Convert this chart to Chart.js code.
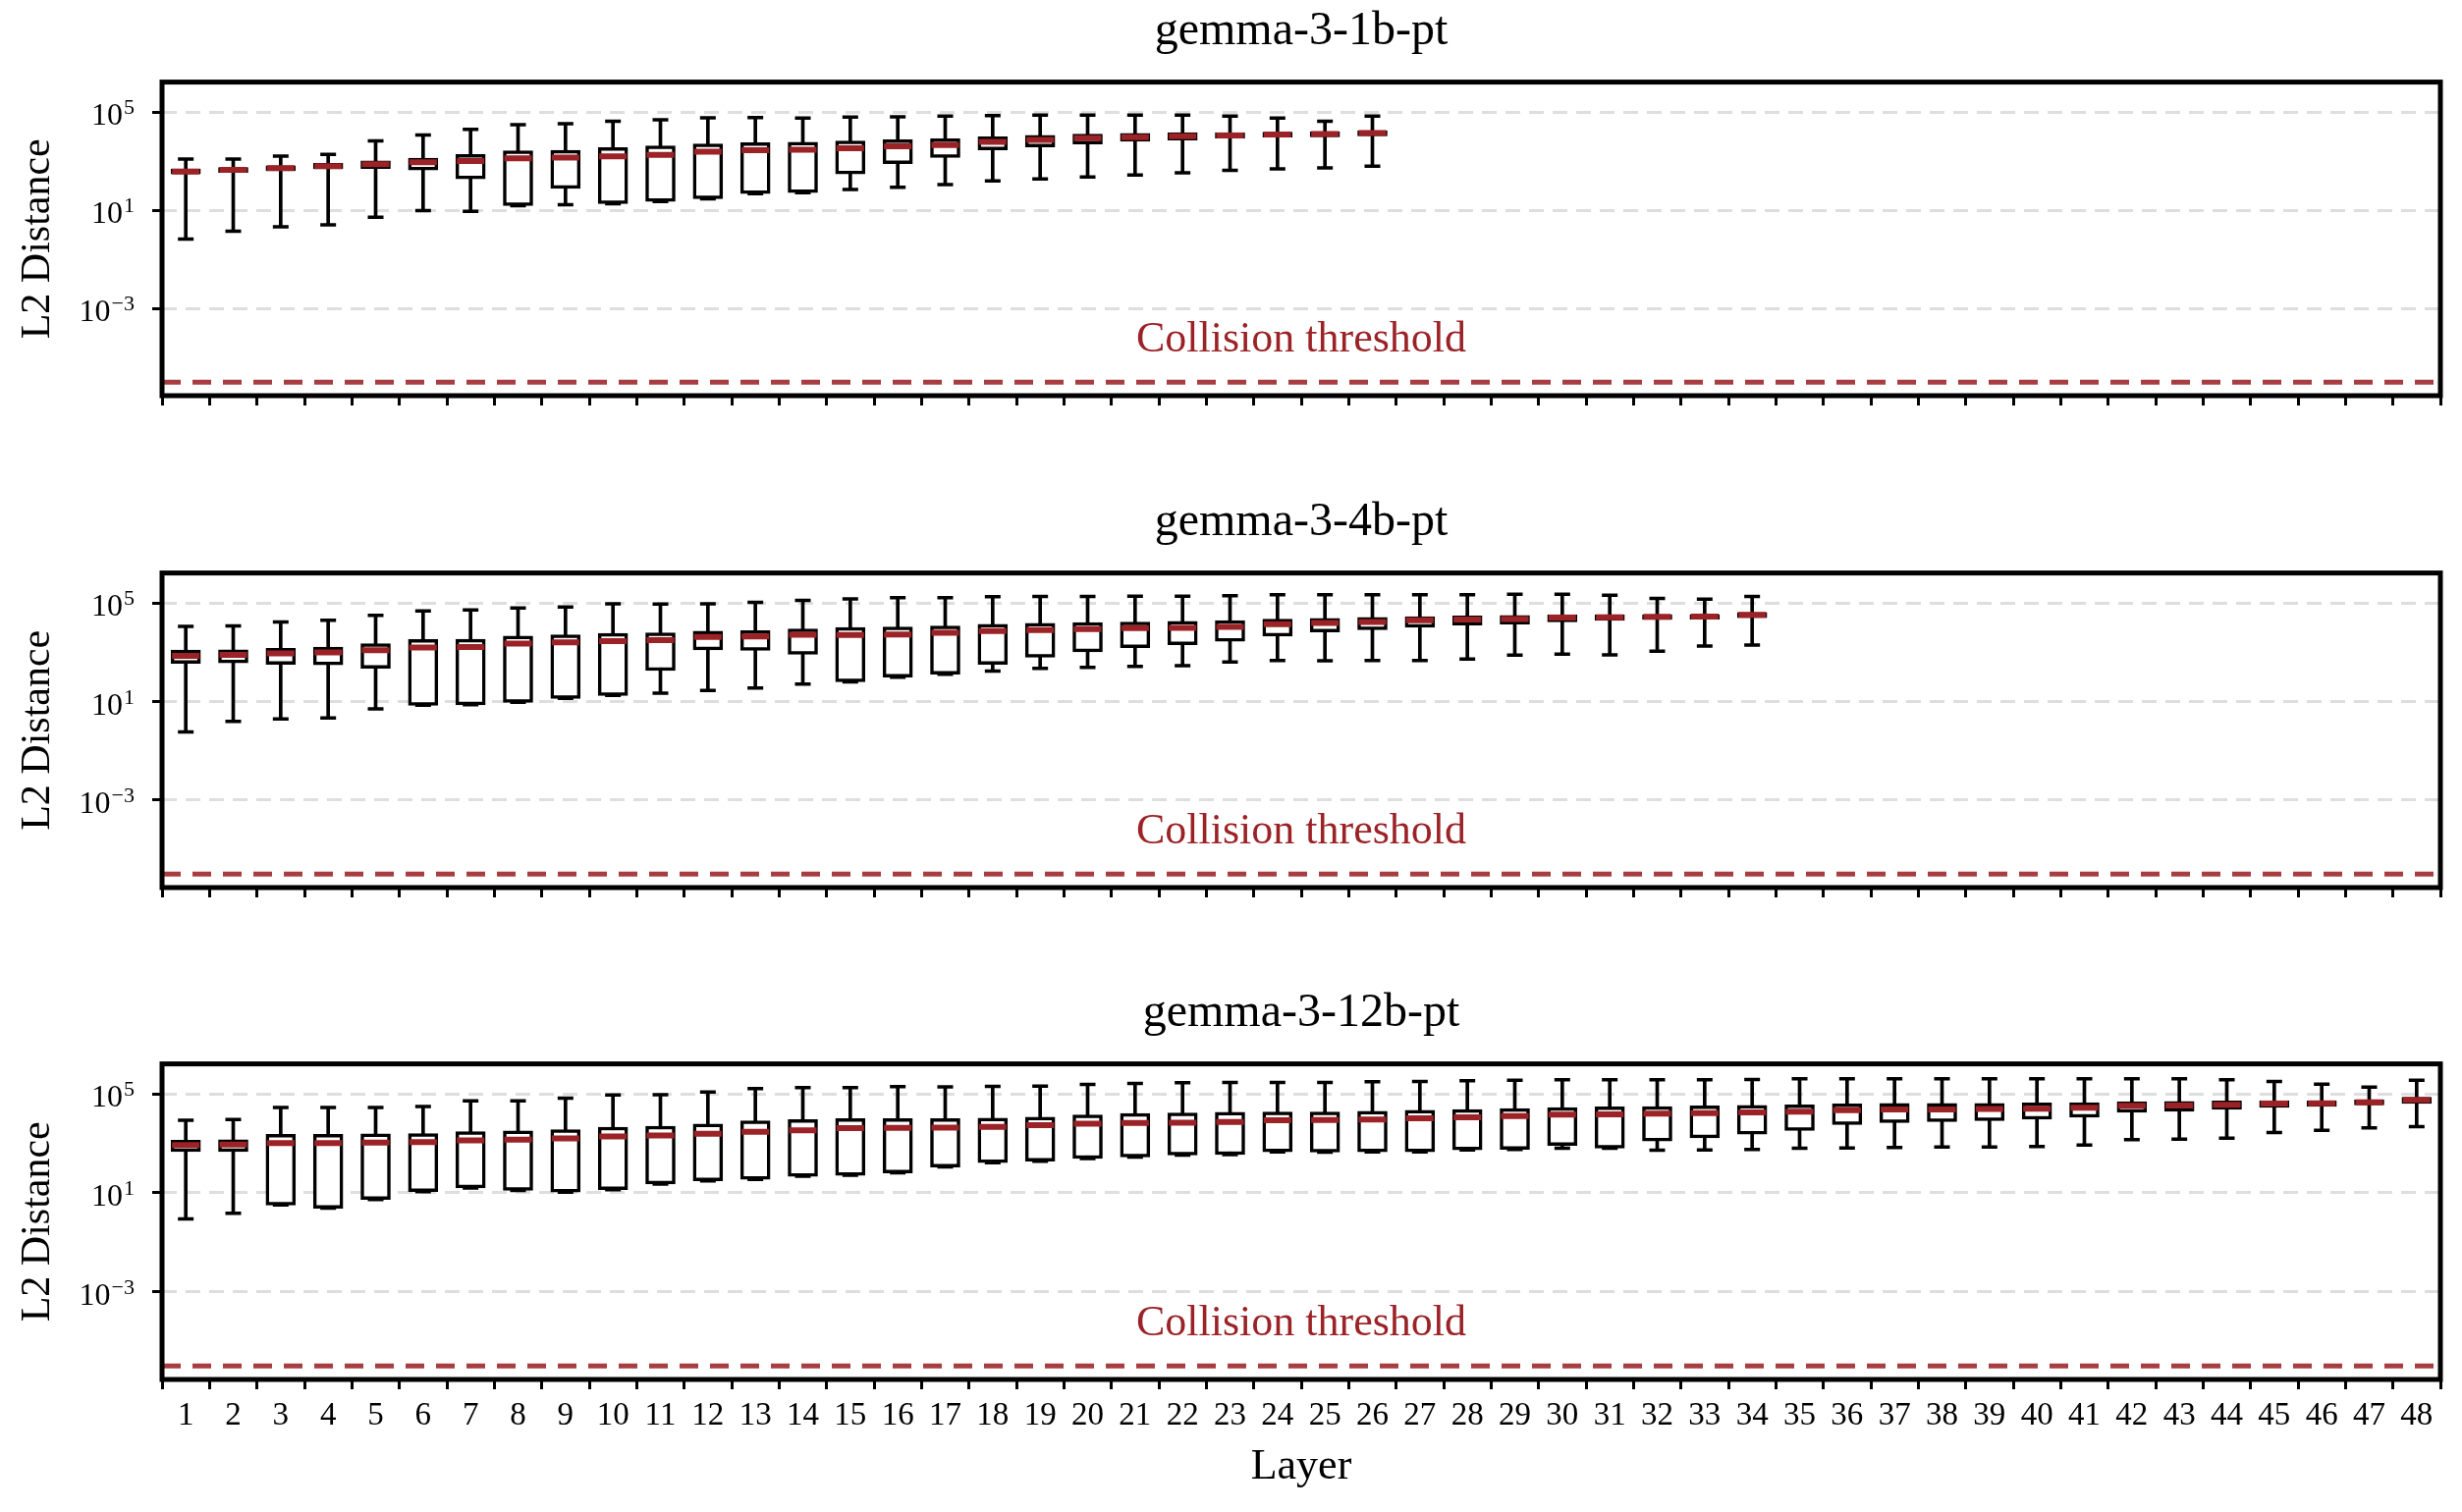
<!DOCTYPE html>
<html>
<head>
<meta charset="utf-8">
<script src="https://cdn.jsdelivr.net/npm/chart.js@4.4.1/dist/chart.umd.min.js"></script>
<style>
  html, body { margin: 0; padding: 0; background: #fff; overflow: hidden; }
  .panel { position: absolute; left: 0; width: 2507px; }
</style>
</head>
<body>
<div class="panel" style="top:0;height:500px"><canvas id="c1b"></canvas></div>
<div class="panel" style="top:500px;height:500px"><canvas id="c4b"></canvas></div>
<div class="panel" style="top:1000px;height:540px"><canvas id="c12b"></canvas></div>
<script>
const LAYERS = ['1','2','3','4','5','6','7','8','9','10','11','12','13','14','15','16',
  '17','18','19','20','21','22','23','24','25','26','27','28','29','30','31','32',
  '33','34','35','36','37','38','39','40','41','42','43','44','45','46','47','48'];
const Y_TICKS = [1e-3, 1e1, 1e5];
const THRESHOLD = 1e-6;

// gemma-3-1b-pt
const lo1b  = [-0.17,0.15,0.33,0.41,0.72,0.99,0.96,1.19,1.23,1.27,1.36,1.47,1.68,1.72,1.85,1.94,2.05,2.20,2.28,2.36,2.44,2.53,2.63,2.69,2.73,2.80];
const q1_1b = [2.48,2.54,2.61,2.69,2.70,2.64,2.28,1.19,1.89,1.27,1.36,1.47,1.68,1.72,2.48,2.90,3.15,3.46,3.58,3.70,3.81,3.86,3.94,3.98,3.99,4.03];
const med1b = [2.58,2.65,2.72,2.80,2.88,2.96,3.01,3.12,3.15,3.20,3.26,3.39,3.45,3.47,3.53,3.61,3.66,3.79,3.87,3.94,3.98,4.02,4.05,4.09,4.10,4.14];
const q3_1b = [2.68,2.74,2.81,2.91,3.01,3.12,3.27,3.42,3.44,3.55,3.62,3.70,3.75,3.77,3.82,3.87,3.91,3.99,4.05,4.10,4.13,4.16,4.16,4.18,4.20,4.24];
const hi1b  = [3.09,3.09,3.21,3.28,3.83,4.07,4.29,4.48,4.52,4.62,4.68,4.76,4.77,4.75,4.79,4.80,4.83,4.85,4.87,4.87,4.87,4.87,4.83,4.75,4.62,4.83];

// gemma-3-4b-pt
const lo4b  = [-0.23,0.20,0.30,0.34,0.70,0.85,0.87,0.97,1.13,1.25,1.34,1.45,1.55,1.71,1.80,1.99,2.11,2.24,2.35,2.39,2.43,2.46,2.61,2.67,2.66,2.67,2.67,2.73,2.89,2.93,2.90,3.05,3.25,3.29];
const q1_4b = [2.55,2.57,2.51,2.49,2.35,0.85,0.87,0.97,1.13,1.25,2.26,3.10,3.08,2.92,1.80,1.99,2.11,2.51,2.80,3.02,3.19,3.31,3.45,3.66,3.83,3.92,4.02,4.10,4.14,4.23,4.29,4.33,4.34,4.40];
const med4b = [2.86,2.90,2.96,3.00,3.09,3.19,3.21,3.35,3.40,3.45,3.49,3.62,3.64,3.71,3.70,3.72,3.79,3.86,3.90,3.94,3.98,3.99,4.03,4.14,4.19,4.23,4.30,4.33,4.35,4.41,4.42,4.44,4.45,4.52];
const q3_4b = [3.09,3.10,3.16,3.21,3.35,3.52,3.53,3.66,3.71,3.77,3.79,3.86,3.88,3.95,4.01,4.03,4.07,4.14,4.18,4.21,4.23,4.26,4.29,4.35,4.38,4.42,4.45,4.48,4.50,4.53,4.53,4.53,4.54,4.62];
const hi4b  = [4.05,4.07,4.23,4.30,4.50,4.68,4.72,4.80,4.84,4.97,4.96,4.97,5.03,5.11,5.17,5.22,5.22,5.26,5.27,5.27,5.28,5.28,5.30,5.34,5.34,5.34,5.34,5.34,5.36,5.36,5.32,5.19,5.16,5.27];

// gemma-3-12b-pt
const lo12b  = [-0.05,0.17,0.51,0.38,0.73,1.05,1.20,1.10,1.03,1.13,1.36,1.49,1.55,1.67,1.71,1.81,2.05,2.22,2.28,2.39,2.45,2.53,2.55,2.66,2.65,2.66,2.66,2.74,2.76,2.81,2.81,2.73,2.74,2.76,2.81,2.82,2.84,2.86,2.86,2.88,2.94,3.15,3.17,3.21,3.44,3.53,3.63,3.68];
const q1_12b = [2.67,2.67,0.51,0.38,0.73,1.05,1.20,1.10,1.03,1.13,1.36,1.49,1.55,1.67,1.71,1.81,2.05,2.22,2.28,2.39,2.45,2.53,2.55,2.66,2.65,2.66,2.66,2.74,2.76,2.92,2.81,3.10,3.23,3.38,3.53,3.76,3.84,3.88,3.92,3.98,4.06,4.26,4.30,4.38,4.46,4.50,4.56,4.62];
const med12b = [2.94,2.96,3.02,3.02,3.04,3.06,3.12,3.15,3.20,3.28,3.32,3.39,3.47,3.53,3.62,3.63,3.64,3.67,3.74,3.80,3.83,3.84,3.87,3.94,3.95,3.97,4.02,4.06,4.11,4.17,4.18,4.21,4.23,4.26,4.29,4.35,4.38,4.38,4.40,4.41,4.45,4.53,4.54,4.57,4.61,4.62,4.66,4.76];
const q3_12b = [3.13,3.15,3.37,3.37,3.39,3.40,3.48,3.51,3.56,3.66,3.70,3.79,3.92,3.97,4.01,4.01,4.01,4.03,4.07,4.15,4.21,4.23,4.26,4.27,4.27,4.30,4.34,4.37,4.41,4.45,4.48,4.49,4.52,4.54,4.56,4.60,4.62,4.62,4.62,4.64,4.65,4.69,4.70,4.72,4.73,4.72,4.77,4.87];
const hi12b  = [3.94,3.97,4.46,4.46,4.46,4.50,4.72,4.72,4.83,4.96,4.97,5.08,5.22,5.26,5.26,5.30,5.29,5.31,5.32,5.39,5.43,5.46,5.47,5.47,5.47,5.50,5.51,5.54,5.56,5.58,5.58,5.58,5.58,5.59,5.62,5.62,5.62,5.62,5.62,5.62,5.62,5.62,5.62,5.58,5.51,5.40,5.28,5.56];

const FONT = '"Liberation Serif", "DejaVu Serif", serif';
const RED = '#9b2226';
Chart.defaults.font.family = FONT;
Chart.defaults.color = '#000';

const pow10 = (v) => Math.pow(10, v);

// threshold line + label under the boxes, frame and 10^n tick labels on top
const decorations = {
  id: 'decorations',
  beforeDatasetsDraw(chart) {
    const { ctx, chartArea: a } = chart;
    const ty = chart.scales.y.getPixelForValue(THRESHOLD);
    ctx.save();
    ctx.strokeStyle = 'rgba(155, 34, 38, 0.88)';
    ctx.lineWidth = 5;
    ctx.setLineDash([19, 12]);
    ctx.beginPath();
    ctx.moveTo(a.left, ty);
    ctx.lineTo(a.right, ty);
    ctx.stroke();
    ctx.setLineDash([]);
    ctx.fillStyle = RED;
    ctx.font = '44px ' + FONT;
    ctx.textAlign = 'center';
    ctx.textBaseline = 'alphabetic';
    ctx.fillText('Collision threshold', (a.left + a.right) / 2, ty - 31);
    ctx.restore();
  },
  afterDraw(chart) {
    const { ctx, chartArea: a } = chart;
    const y = chart.scales.y;
    ctx.save();
    ctx.strokeStyle = '#000';
    ctx.lineWidth = 5;
    ctx.strokeRect(a.left, a.top, a.right - a.left, a.bottom - a.top);
    ctx.fillStyle = '#000';
    ctx.textAlign = 'right';
    ctx.textBaseline = 'alphabetic';
    const xr = a.left - 28;
    Y_TICKS.forEach(function (v) {
      const py = y.getPixelForValue(v);
      const exp = String(Math.round(Math.log10(v))).replace('-', '\u2212');
      ctx.font = '22px ' + FONT;
      const ew = ctx.measureText(exp).width;
      ctx.fillText(exp, xr, py + 2);
      ctx.font = '32px ' + FONT;
      ctx.fillText('10', xr - ew - 1, py + 13);
    });
    ctx.restore();
  }
};

function buildChart(id, title, lo, q1, med, q3, hi, xHeight, showLabels) {
  const ctx = document.getElementById(id).getContext('2d');
  return new Chart(ctx, {
    type: 'bar',
    data: {
      labels: LAYERS,
      datasets: [
        {
          type: 'line', label: 'median', order: 0,
          data: med.map(pow10),
          showLine: false, pointStyle: 'line', pointRadius: 14,
          pointBorderWidth: 6, pointBorderColor: RED, borderColor: RED
        },
        {
          type: 'line', label: 'cap max', order: 1,
          data: hi.map(pow10),
          showLine: false, pointStyle: 'line', pointRadius: 8,
          pointBorderWidth: 3.5, pointBorderColor: '#000', borderColor: '#000'
        },
        {
          type: 'line', label: 'cap min', order: 1,
          data: lo.map(pow10),
          showLine: false, pointStyle: 'line', pointRadius: 8,
          pointBorderWidth: 3.5, pointBorderColor: '#000', borderColor: '#000'
        },
        {
          label: 'box', order: 2, grouped: false,
          data: q1.map((v, i) => [pow10(v), pow10(q3[i])]),
          backgroundColor: '#fff', borderColor: '#000', borderWidth: 3.5,
          borderSkipped: false, barThickness: 30
        },
        {
          label: 'whisker', order: 3, grouped: false,
          data: lo.map((v, i) => [pow10(v), pow10(hi[i])]),
          backgroundColor: '#000', borderWidth: 0, barThickness: 3
        }
      ]
    },
    options: {
      responsive: true,
      maintainAspectRatio: false,
      animation: false,
      events: [],
      layout: { padding: { left: 0, right: 22, top: 0, bottom: 0 } },
      plugins: {
        legend: { display: false },
        tooltip: { enabled: false },
        title: {
          display: true, text: title, color: '#000', fullSize: false,
          font: { size: 48, weight: 'normal', lineHeight: 1.2 },
          padding: { top: 4, bottom: 22 }
        }
      },
      scales: {
        x: {
          type: 'category',
          offset: true,
          afterFit: (scale) => { scale.height = xHeight; },
          grid: { display: true, drawOnChartArea: false, drawTicks: true,
                  tickLength: 10, tickWidth: 3, tickColor: '#000' },
          border: { display: false },
          ticks: { display: showLabels, autoSkip: false, maxRotation: 0, minRotation: 0,
                   padding: 8, color: '#000', font: { size: 33 } },
          title: { display: showLabels, text: 'Layer', color: '#000',
                   font: { size: 44 }, padding: { top: 0, bottom: 19 } }
        },
        y: {
          type: 'logarithmic',
          min: pow10(-6.55),
          max: pow10(6.22),
          afterFit: (scale) => { scale.width = 165; },
          afterBuildTicks: (scale) => { scale.ticks = Y_TICKS.map((v) => ({ value: v })); },
          grid: { color: '#dedede', lineWidth: 3, drawTicks: true,
                  tickLength: 10, tickWidth: 3, tickColor: '#000' },
          border: { display: false, dash: [15, 9] },
          ticks: { display: false },
          title: { display: true, text: 'L2 Distance', color: '#000',
                   font: { size: 42 }, padding: { top: 14, bottom: 0 } }
        }
      }
    },
    plugins: [decorations]
  });
}

buildChart('c1b', 'gemma-3-1b-pt', lo1b, q1_1b, med1b, q3_1b, hi1b, 97, false);
buildChart('c4b', 'gemma-3-4b-pt', lo4b, q1_4b, med4b, q3_4b, hi4b, 96, false);
buildChart('c12b', 'gemma-3-12b-pt', lo12b, q1_12b, med12b, q3_12b, hi12b, 135, true);
</script>
</body>
</html>
